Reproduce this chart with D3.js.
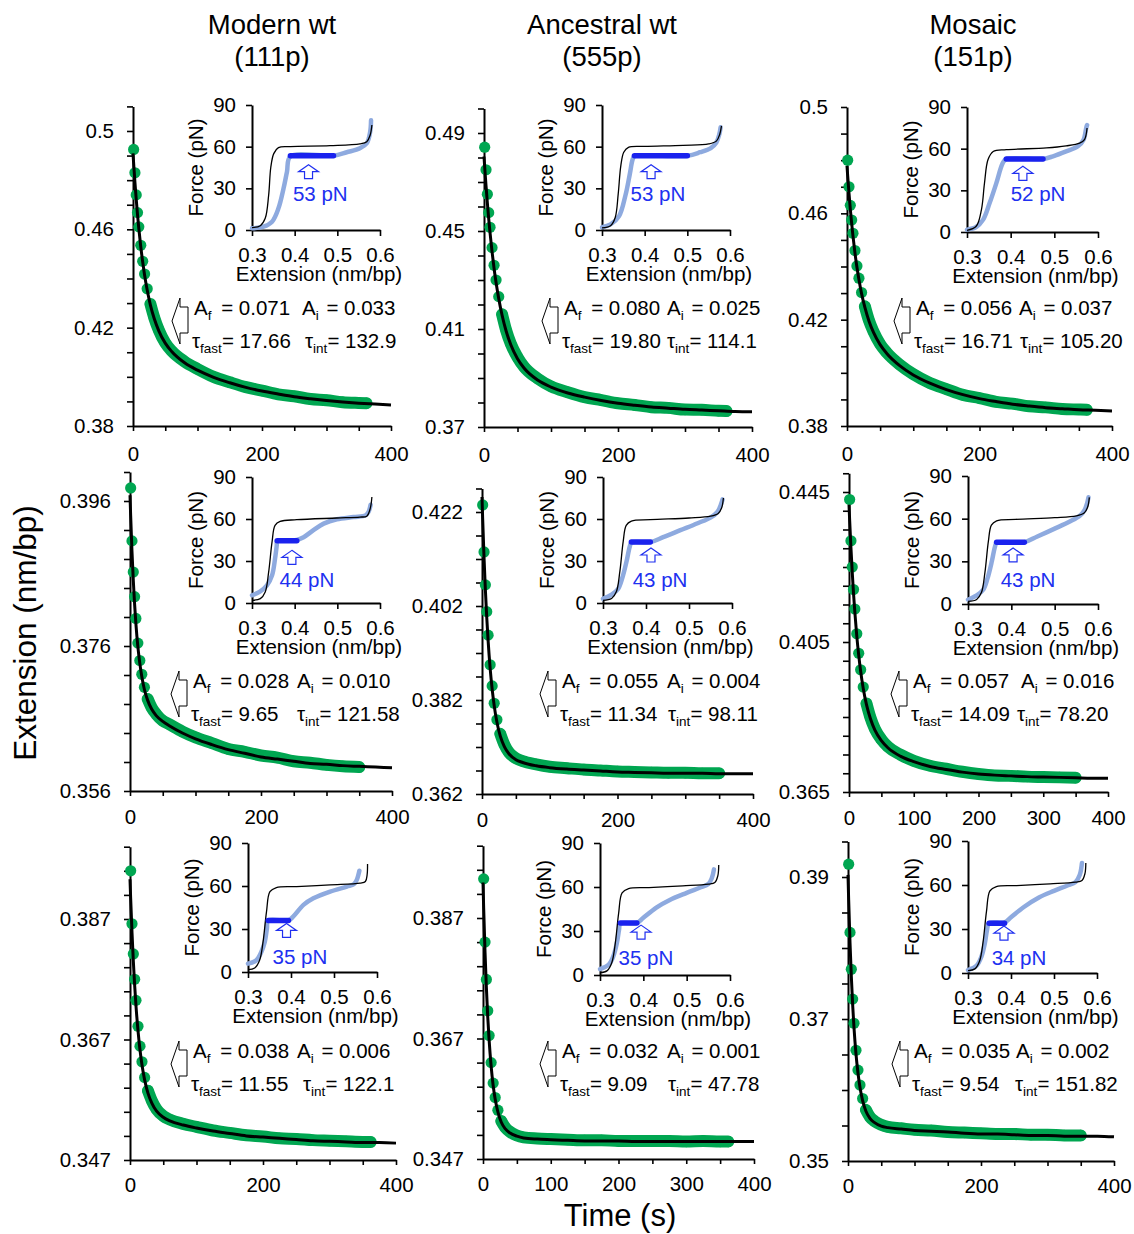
<!DOCTYPE html>
<html>
<head>
<meta charset="utf-8">
<script src="https://cdn.jsdelivr.net/npm/d3@7"></script>
<style>
  body { margin: 0; background: #fff; }
  svg { font-family: "Liberation Sans", Arial, Helvetica, sans-serif; }
</style>
</head>
<body>
<script>
// ---- data ----
const titles = [["Modern wt", "(111p)"], ["Ancestral wt", "(555p)"], ["Mosaic", "(151p)"]];

// time grid of the fitted curve and of the plotted points (s)
const fitT = [0,1,3,5,7,9,12,15,18,22,27,33,40,50,60,80,100,125,150,175,200,225,250,275,300,325,350,375,400];
const dotT = [1,3,5,7,9,12,15,18,22,27,33,40,50,60,80,100,125,150,175,200,225,250,275,300,325,350,362];

const fit11 = [0.4909,0.4868,0.4791,0.4722,0.4660,0.4604,0.4530,0.4468,0.4413,0.4353,0.4292,0.4236,0.4187,0.4137,0.4103,0.4057,0.4027,0.3998,0.3976,0.3957,0.3942,0.3930,0.3919,0.3911,0.3904,0.3898,0.3893,0.3889,0.3885];
const dots11 = [0.4925,0.4830,0.4740,0.4668,0.4610,0.4535,0.4470,0.4418,0.4358,0.4296,0.4240,0.4190,0.4138,0.4105,0.4062,0.4032,0.4000,0.3978,0.3958,0.3944,0.3929,0.3921,0.3910,0.3905,0.3897,0.3894,0.3893];
const fit12 = [0.4804,0.4762,0.4685,0.4615,0.4551,0.4493,0.4416,0.4348,0.4290,0.4224,0.4156,0.4092,0.4036,0.3979,0.3940,0.3892,0.3863,0.3839,0.3822,0.3808,0.3797,0.3789,0.3782,0.3777,0.3772,0.3769,0.3766,0.3763,0.3762];
const dots12 = [0.4842,0.4750,0.4650,0.4575,0.4515,0.4432,0.4360,0.4300,0.4232,0.4160,0.4095,0.4040,0.3985,0.3945,0.3898,0.3866,0.3842,0.3822,0.3810,0.3797,0.3790,0.3781,0.3778,0.3771,0.3770,0.3766,0.3765];
const fit13 = [0.4778,0.4742,0.4676,0.4616,0.4563,0.4515,0.4451,0.4397,0.4351,0.4298,0.4246,0.4196,0.4152,0.4106,0.4073,0.4026,0.3992,0.3961,0.3937,0.3918,0.3903,0.3892,0.3882,0.3875,0.3869,0.3865,0.3861,0.3859,0.3856];
const dots13 = [0.4800,0.4700,0.4630,0.4575,0.4525,0.4460,0.4402,0.4356,0.4302,0.4250,0.4198,0.4155,0.4108,0.4076,0.4030,0.3995,0.3962,0.3939,0.3917,0.3905,0.3891,0.3884,0.3874,0.3870,0.3864,0.3862,0.3861];
const fit21 = [0.3968,0.3940,0.3891,0.3851,0.3818,0.3791,0.3759,0.3736,0.3718,0.3700,0.3685,0.3673,0.3664,0.3656,0.3650,0.3640,0.3632,0.3624,0.3617,0.3612,0.3607,0.3604,0.3601,0.3598,0.3597,0.3595,0.3594,0.3593,0.3592];
const dots21 = [0.3978,0.3905,0.3862,0.3828,0.3798,0.3764,0.3740,0.3721,0.3703,0.3687,0.3675,0.3666,0.3657,0.3652,0.3642,0.3634,0.3626,0.3618,0.3614,0.3609,0.3606,0.3601,0.3599,0.3596,0.3594,0.3593];
const fit22 = [0.4252,0.4205,0.4123,0.4054,0.3996,0.3947,0.3888,0.3843,0.3808,0.3773,0.3743,0.3721,0.3705,0.3693,0.3687,0.3680,0.3676,0.3673,0.3671,0.3669,0.3667,0.3666,0.3665,0.3664,0.3664,0.3664,0.3663,0.3663,0.3663];
const dots22 = [0.4235,0.4135,0.4065,0.4008,0.3958,0.3895,0.3850,0.3813,0.3778,0.3748,0.3725,0.3708,0.3696,0.3690,0.3683,0.3678,0.3675,0.3672,0.3670,0.3668,0.3667,0.3666,0.3665,0.3665,0.3664,0.3664];
const fit23 = [0.4416,0.4375,0.4301,0.4236,0.4179,0.4130,0.4066,0.4015,0.3972,0.3926,0.3883,0.3846,0.3815,0.3787,0.3768,0.3745,0.3731,0.3718,0.3710,0.3703,0.3698,0.3695,0.3693,0.3691,0.3690,0.3689,0.3688,0.3687,0.3687];
const dots23 = [0.4430,0.4320,0.4250,0.4190,0.4138,0.4072,0.4020,0.3976,0.3930,0.3886,0.3849,0.3818,0.3790,0.3771,0.3749,0.3733,0.3720,0.3712,0.3704,0.3698,0.3694,0.3693,0.3691,0.3690,0.3689,0.3688];
const fit31 = [0.3936,0.3904,0.3848,0.3800,0.3760,0.3726,0.3685,0.3653,0.3628,0.3603,0.3581,0.3564,0.3551,0.3541,0.3535,0.3528,0.3523,0.3518,0.3514,0.3510,0.3508,0.3506,0.3504,0.3502,0.3501,0.3500,0.3499,0.3499,0.3498];
const dots31 = [0.3950,0.3862,0.3812,0.3770,0.3735,0.3692,0.3659,0.3633,0.3607,0.3585,0.3568,0.3554,0.3543,0.3537,0.3530,0.3525,0.3519,0.3515,0.3511,0.3509,0.3506,0.3505,0.3503,0.3502,0.3501,0.3500,0.3500];
const fit32 = [0.3929,0.3886,0.3813,0.3754,0.3706,0.3668,0.3624,0.3592,0.3569,0.3548,0.3531,0.3520,0.3513,0.3508,0.3505,0.3503,0.3502,0.3501,0.3500,0.3500,0.3500,0.3499,0.3499,0.3499,0.3499,0.3499,0.3499,0.3499,0.3499];
const dots32 = [0.3935,0.3830,0.3768,0.3716,0.3675,0.3630,0.3596,0.3572,0.3551,0.3533,0.3522,0.3515,0.3509,0.3506,0.3504,0.3503,0.3502,0.3501,0.3501,0.3500,0.3500,0.3500,0.3500,0.3499,0.3500,0.3499,0.3499];
const fit33 = [0.3903,0.3868,0.3808,0.3760,0.3720,0.3688,0.3651,0.3624,0.3604,0.3585,0.3570,0.3560,0.3554,0.3549,0.3547,0.3545,0.3543,0.3542,0.3541,0.3539,0.3538,0.3538,0.3537,0.3536,0.3536,0.3535,0.3535,0.3535,0.3534];
const dots33 = [0.3918,0.3822,0.3770,0.3728,0.3694,0.3656,0.3628,0.3607,0.3588,0.3572,0.3562,0.3556,0.3551,0.3548,0.3546,0.3544,0.3543,0.3541,0.3540,0.3539,0.3538,0.3538,0.3537,0.3537,0.3536,0.3536];

// labelled ticks
const yTicks11 = [0.38, 0.42, 0.46, 0.5], yTicks12 = [0.37, 0.41, 0.45, 0.49], yTicks13 = [0.38, 0.42, 0.46, 0.5];
const yTicks21 = [0.356, 0.376, 0.396], yTicks22 = [0.362, 0.382, 0.402, 0.422], yTicks23 = [0.365, 0.405, 0.445];
const yTicks31 = [0.347, 0.367, 0.387], yTicks32 = [0.347, 0.367, 0.387], yTicks33 = [0.35, 0.37, 0.39];
const xTicksA = [0, 200, 400], xTicksB = [0, 100, 200, 300, 400];

// fit parameters printed on each panel: A_f, A_i, tau_fast, tau_int
const par11 = ["0.071", "0.033", "17.66", "132.9"];
const par12 = ["0.080", "0.025", "19.80", "114.1"];
const par13 = ["0.056", "0.037", "16.71", "105.20"];
const par21 = ["0.028", "0.010", "9.65", "121.58"];
const par22 = ["0.055", "0.004", "11.34", "98.11"];
const par23 = ["0.057", "0.016", "14.09", "78.20"];
const par31 = ["0.038", "0.006", "11.55", "122.1"];
const par32 = ["0.032", "0.001", "9.09", "47.78"];
const par33 = ["0.035", "0.002", "9.54", "151.82"];

// force-extension insets: [extension nm/bp, force pN]
const str11 = [[0.3,1.7],[0.3195,3.1],[0.331,8.4],[0.339,25],[0.344,45],[0.351,55],[0.362,59.3],[0.39,60],[0.483,60.7],[0.553,62],[0.569,63.6],[0.577,68.4],[0.581,75.6]];
const rel11 = [[0.3,1.2],[0.327,2.4],[0.347,6],[0.362,15.6],[0.374,30],[0.382,42],[0.39,53],[0.491,53.5],[0.522,56],[0.553,58.8],[0.569,62.4],[0.577,70.8],[0.579,79]];
const hold11 = [0.39, 0.491, 53.5];
const str12 = [[0.3,1.5],[0.32,3],[0.331,9],[0.338,26],[0.344,46],[0.351,56],[0.362,59.5],[0.4,60.2],[0.49,61],[0.55,62],[0.568,64],[0.576,69],[0.58,75]];
const rel12 = [[0.3,2],[0.32,4],[0.34,10],[0.355,25],[0.365,40],[0.372,51],[0.376,53],[0.5,53.5],[0.53,56],[0.555,59],[0.568,63],[0.575,69],[0.578,74]];
const hold12 = [0.376, 0.5, 53.5];
const str13 = [[0.3,1.2],[0.321,4.1],[0.333,16],[0.34,35],[0.348,52],[0.36,58],[0.39,59.3],[0.482,60.5],[0.527,62],[0.558,64],[0.569,66.5],[0.575,74.9]];
const rel13 = [[0.3,1.7],[0.321,3.6],[0.337,8.9],[0.352,21],[0.367,35],[0.382,49.7],[0.39,52.6],[0.474,52.6],[0.497,54.5],[0.527,58],[0.554,61.7],[0.567,66.5],[0.573,74.9],[0.575,77]];
const hold13 = [0.39, 0.474, 52.6];
const str21 = [[0.3,1.9],[0.3195,3.1],[0.331,7.9],[0.339,22],[0.347,43.6],[0.354,55.5],[0.366,58.3],[0.405,59.5],[0.499,60.7],[0.553,61.4],[0.569,62],[0.577,67.4],[0.581,75.7]];
const rel21 = [[0.3,5.5],[0.3195,8.3],[0.335,12.6],[0.347,19.8],[0.354,31.7],[0.358,41.2],[0.359,44],[0.405,45],[0.421,47],[0.444,52],[0.468,56.7],[0.499,59.8],[0.538,61.4],[0.566,62.6],[0.573,65],[0.578,70.2]];
const hold21 = [0.359, 0.405, 44.5];
const str22 = [[0.3,1.9],[0.32,3.2],[0.331,8],[0.339,22],[0.347,44],[0.354,55.5],[0.366,58.5],[0.41,59.5],[0.5,60.7],[0.55,62],[0.568,64],[0.576,68],[0.58,75]];
const rel22 = [[0.3,3],[0.32,6],[0.335,10],[0.345,18],[0.355,30],[0.362,40],[0.366,43],[0.41,43.5],[0.44,47],[0.48,52],[0.52,57],[0.55,61],[0.566,65],[0.575,71],[0.578,74]];
const hold22 = [0.366, 0.41, 43.5];
const str23 = [[0.3,1.9],[0.32,3.2],[0.331,8],[0.339,22],[0.347,44],[0.354,55.5],[0.366,58.5],[0.41,59.5],[0.5,60.7],[0.55,62],[0.568,64],[0.576,68],[0.58,75]];
const rel23 = [[0.3,3],[0.32,6],[0.335,10],[0.345,18],[0.355,30],[0.362,40],[0.366,43],[0.43,43.5],[0.46,47.5],[0.5,53],[0.535,58],[0.558,62],[0.569,66],[0.575,71],[0.578,75]];
const hold23 = [0.366, 0.43, 43.5];
const str31 = [[0.3,1.6],[0.3156,2.8],[0.327,8.2],[0.335,21],[0.343,42],[0.351,56],[0.366,58.9],[0.413,59.6],[0.491,60.8],[0.561,62],[0.573,63.1],[0.577,67.8],[0.578,75.3]];
const rel31 = [[0.3,5.8],[0.3195,8.2],[0.331,14],[0.339,21],[0.344,30.4],[0.347,36],[0.394,36],[0.405,38.6],[0.429,46.8],[0.452,51.4],[0.491,56.1],[0.53,59.6],[0.546,61.2],[0.553,64.3],[0.559,70.6]];
const hold31 = [0.347, 0.394, 36];
const str32 = [[0.3,1.6],[0.316,2.8],[0.327,8.2],[0.335,21],[0.343,42],[0.351,56],[0.366,58.9],[0.413,59.6],[0.491,60.8],[0.55,62],[0.565,63.1],[0.572,67.8],[0.574,75]];
const rel32 = [[0.3,4],[0.32,7],[0.331,13],[0.339,22],[0.344,31],[0.347,35],[0.385,35.5],[0.4,39],[0.43,46],[0.46,51],[0.5,56],[0.53,59.5],[0.55,62],[0.558,66],[0.563,72]];
const hold32 = [0.347, 0.385, 35.5];
const str33 = [[0.3,1.6],[0.316,2.8],[0.327,8.2],[0.335,21],[0.343,42],[0.351,56],[0.366,58.9],[0.413,59.6],[0.491,60.8],[0.55,62],[0.565,63.1],[0.572,67.8],[0.574,75]];
const rel33 = [[0.3,2],[0.32,5],[0.331,11],[0.339,20],[0.344,29],[0.349,34],[0.385,34.5],[0.4,38],[0.43,45],[0.465,51.5],[0.5,56],[0.53,59.5],[0.55,62],[0.56,67],[0.565,75]];
const hold33 = [0.349, 0.385, 34];
const holdLabels = ["53 pN", "53 pN", "52 pN", "44 pN", "43 pN", "43 pN", "35 pN", "35 pN", "34 pN"];

// ---- layout (pixels) ----
const layout = [
  {x: [133, 391], y: [426, 106.4], yDom: [0.38, 0.51], minor: 0.01, xPad: 15, ix: [252, 380], iy: [230, 105], ann: [194, 315, 302, 305], arr: [0.4325, 47], lab: [0.46, 21]},
  {x: [484, 752], y: [427, 108.5], yDom: [0.37, 0.50], minor: 0.01, xPad: 15, ix: [602, 730], iy: [230, 105], ann: [564, 315, 667, 667], arr: [0.415, 47], lab: [0.431, 21]},
  {x: [847, 1112], y: [426, 107], yDom: [0.38, 0.50], minor: 0.01, xPad: 15, ix: [967, 1098], iy: [232, 107], ann: [916, 315, 1019, 1020], arr: [0.428, 47.3], lab: [0.4626, 22]},
  {x: [130, 392], y: [791, 472], yDom: [0.356, 0.400], minor: 0.004, xPad: 13, ix: [252, 380], iy: [603, 477], ann: [193, 688, 297, 297], arr: [0.3935, 37.6], lab: [0.4286, 11.4]},
  {x: [482, 753], y: [794, 488.5], yDom: [0.362, 0.427], minor: 0.005, xPad: 13, ix: [603, 732], iy: [603, 477], ann: [562, 688, 667, 668], arr: [0.4116, 39.3], lab: [0.4326, 11.4]},
  {x: [849, 1108], y: [792, 473.25], yDom: [0.365, 0.45], minor: 0.005, xPad: 13, ix: [968, 1098], iy: [604, 476], ann: [913, 688, 1021, 1017], arr: [0.404, 39.4], lab: [0.4386, 12]},
  {x: [130, 396], y: [1160, 846.7], yDom: [0.347, 0.399], minor: 0.004, xPad: 12, ix: [248, 377], iy: [972, 843], ann: [193, 1058, 297, 303], arr: [0.3896, 33.9], lab: [0.4208, 5.8]},
  {x: [483, 754], y: [1159, 845.7], yDom: [0.347, 0.399], minor: 0.004, xPad: 12, ix: [600, 730], iy: [975, 843], ann: [562, 1058, 667, 668], arr: [0.3947, 34], lab: [0.406, 6.8]},
  {x: [848, 1114], y: [1161, 841.5], yDom: [0.35, 0.395], minor: 0.005, xPad: 12, ix: [968, 1097], iy: [973, 841], ann: [914, 1058, 1016, 1015], arr: [0.3837, 32], lab: [0.4186, 5.5]}
];

const panels = [
  {fit: fit11, dots: dots11, yTicks: yTicks11, xTicks: xTicksA, par: par11, str: str11, rel: rel11, hold: hold11},
  {fit: fit12, dots: dots12, yTicks: yTicks12, xTicks: xTicksA, par: par12, str: str12, rel: rel12, hold: hold12},
  {fit: fit13, dots: dots13, yTicks: yTicks13, xTicks: xTicksA, par: par13, str: str13, rel: rel13, hold: hold13},
  {fit: fit21, dots: dots21, yTicks: yTicks21, xTicks: xTicksA, par: par21, str: str21, rel: rel21, hold: hold21},
  {fit: fit22, dots: dots22, yTicks: yTicks22, xTicks: xTicksA, par: par22, str: str22, rel: rel22, hold: hold22},
  {fit: fit23, dots: dots23, yTicks: yTicks23, xTicks: xTicksB, par: par23, str: str23, rel: rel23, hold: hold23},
  {fit: fit31, dots: dots31, yTicks: yTicks31, xTicks: xTicksA, par: par31, str: str31, rel: rel31, hold: hold31},
  {fit: fit32, dots: dots32, yTicks: yTicks32, xTicks: xTicksB, par: par32, str: str32, rel: rel32, hold: hold32},
  {fit: fit33, dots: dots33, yTicks: yTicks33, xTicks: xTicksA, par: par33, str: str33, rel: rel33, hold: hold33}
];

const green = "#00a651", lightBlue = "#8eaadf", darkBlue = "#1a22ee", textBlue = "#2030f0";
const fs = 20.5;

const svg = d3.select("body").append("svg")
  .attr("width", 1134)
  .attr("height", 1234);

function styleAxis(g, size) {
  g.attr("font-family", null).attr("font-size", size);
  g.select(".domain").attr("stroke-width", 2);
  g.selectAll(".tick line").attr("stroke-width", 1.6);
  g.selectAll(".tick text").attr("fill", "#000");
}

// symbol + subscript + rest, e.g. A_f = 0.071
function subText(g, x, y, sym, sub, rest, gap) {
  const t = g.append("text").attr("x", x).attr("y", y).attr("font-size", fs);
  t.append("tspan").text(sym);
  t.append("tspan").attr("font-size", 13.5).attr("dy", 5).text(sub);
  t.append("tspan").attr("dy", -5).attr("dx", gap).text(rest);
}

panels.forEach(function (p, i) {
  const L = layout[i];
  const g = svg.append("g");
  const x = d3.scaleLinear().domain([0, 400]).range(L.x);
  const y = d3.scaleLinear().domain(L.yDom).range(L.y);

  // axes
  const n = Math.round((L.yDom[1] - L.yDom[0]) / L.minor);
  const yAll = d3.range(n + 1).map(k => +(L.yDom[0] + k * L.minor).toFixed(4));
  const isMajor = v => p.yTicks.some(m => Math.abs(m - v) < 1e-6);
  g.append("g")
    .attr("transform", `translate(${L.x[0]},0)`)
    .call(d3.axisLeft(y).tickValues(yAll).tickSize(6).tickSizeOuter(0).tickPadding(13)
      .tickFormat(v => isMajor(v) ? String(v) : ""))
    .call(styleAxis, fs);
  g.append("g")
    .attr("transform", `translate(0,${L.y[0]})`)
    .call(d3.axisBottom(x).tickValues(d3.range(0, 401, 50)).tickSize(5).tickSizeOuter(0).tickPadding(L.xPad)
      .tickFormat(v => p.xTicks.includes(v) ? String(v) : ""))
    .call(styleAxis, fs);

  // data points
  const pts = p.dots.map((v, k) => [dotT[k], v]);
  const line = d3.line().x(d => x(d[0])).y(d => y(d[1])).curve(d3.curveMonotoneX);
  g.append("path")
    .attr("d", line(pts.filter(d => d[0] >= 27)))
    .attr("fill", "none")
    .attr("stroke", green)
    .attr("stroke-width", 12)
    .attr("stroke-linecap", "round")
    .attr("stroke-linejoin", "round");
  g.selectAll("circle.pt")
    .data(pts)
    .enter()
    .append("circle")
    .attr("class", "pt")
    .attr("cx", d => x(d[0]))
    .attr("cy", d => y(d[1]))
    .attr("r", 5.6)
    .attr("fill", green);

  // fitted curve
  g.append("path")
    .attr("d", line(p.fit.map((v, k) => [fitT[k], v])))
    .attr("fill", "none")
    .attr("stroke", "#000")
    .attr("stroke-width", 3);

  // annotation: open arrow + parameters
  const [ax, ay, aiX, tiX] = L.ann;
  const tipX = ax - 22, tipY = ay + 6;
  const arrowPts = [[0, 0], [8, -23], [8, -14], [16, -14], [16, 12], [8, 12], [8, 23]];
  g.append("polygon")
    .attr("points", arrowPts.map(d => [tipX + d[0], tipY + d[1]].join(",")).join(" "))
    .attr("fill", "#fff")
    .attr("stroke", "#000")
    .attr("stroke-width", 1);
  subText(g, ax, ay, "A", "f", " = " + p.par[0], 4);
  subText(g, aiX, ay, "A", "i", " = " + p.par[1], 2);
  subText(g, ax - 2, ay + 33, "\u03c4", "fast", "= " + p.par[2], 0);
  subText(g, tiX, ay + 33, "\u03c4", "int", "= " + p.par[3], 0);

  // inset: force-extension
  const xi = d3.scaleLinear().domain([0.3, 0.6]).range(L.ix);
  const yi = d3.scaleLinear().domain([0, 90]).range(L.iy);
  const ig = g.append("g");
  ig.append("g")
    .attr("transform", `translate(${L.ix[0]},0)`)
    .call(d3.axisLeft(yi).tickValues([0, 30, 60, 90]).tickSize(6).tickSizeOuter(0).tickPadding(10))
    .call(styleAxis, fs);
  ig.append("g")
    .attr("transform", `translate(0,${L.iy[0]})`)
    .call(d3.axisBottom(xi).tickValues([0.3, 0.4, 0.5, 0.6]).tickSize(6).tickSizeOuter(0).tickPadding(11)
      .tickFormat(d3.format(".1f")))
    .call(styleAxis, fs);
  ig.append("text")
    .attr("x", (L.ix[0] + L.ix[1]) / 2 + 3)
    .attr("y", L.iy[0] + 51)
    .attr("text-anchor", "middle")
    .attr("font-size", fs)
    .text("Extension (nm/bp)");
  ig.append("text")
    .attr("transform", `translate(${L.ix[0] - 49},${(L.iy[0] + L.iy[1]) / 2}) rotate(-90)`)
    .attr("text-anchor", "middle")
    .attr("font-size", fs)
    .text("Force (pN)");

  const fl = d3.line().x(d => xi(d[0])).y(d => yi(d[1])).curve(d3.curveCatmullRom.alpha(0.5));
  ig.append("path").attr("d", fl(p.rel))
    .attr("fill", "none").attr("stroke", lightBlue).attr("stroke-width", 4.5)
    .attr("stroke-linecap", "round").attr("stroke-linejoin", "round");
  ig.append("path").attr("d", fl(p.str))
    .attr("fill", "none").attr("stroke", "#000").attr("stroke-width", 1.3);
  ig.append("line")
    .attr("x1", xi(p.hold[0])).attr("x2", xi(p.hold[1]))
    .attr("y1", yi(p.hold[2])).attr("y2", yi(p.hold[2]))
    .attr("stroke", darkBlue).attr("stroke-width", 5.5).attr("stroke-linecap", "round");

  const ux = xi(L.arr[0]), uy = yi(L.arr[1]);
  const upPts = [[0, 0], [10, 7], [4, 7], [4, 14], [-4, 14], [-4, 7], [-10, 7]];
  ig.append("polygon")
    .attr("points", upPts.map(d => [ux + d[0], uy + d[1]].join(",")).join(" "))
    .attr("fill", "#fff").attr("stroke", textBlue).attr("stroke-width", 1.2);
  ig.append("text")
    .attr("x", xi(L.lab[0])).attr("y", yi(L.lab[1]))
    .attr("text-anchor", "middle")
    .attr("font-size", fs)
    .attr("fill", textBlue)
    .text(holdLabels[i]);
});

// column titles
const titleX = [272, 602, 973];
titles.forEach(function (t, c) {
  svg.append("text").attr("x", titleX[c]).attr("y", 34).attr("text-anchor", "middle")
    .attr("font-size", 27.5).text(t[0]);
  svg.append("text").attr("x", titleX[c]).attr("y", 66).attr("text-anchor", "middle")
    .attr("font-size", 27.5).text(t[1]);
});

// shared axis titles
svg.append("text")
  .attr("transform", "translate(36,633) rotate(-90)")
  .attr("text-anchor", "middle")
  .attr("font-size", 31.5)
  .text("Extension (nm/bp)");
svg.append("text")
  .attr("x", 620)
  .attr("y", 1226)
  .attr("text-anchor", "middle")
  .attr("font-size", 31)
  .text("Time (s)");
</script>
</body>
</html>
